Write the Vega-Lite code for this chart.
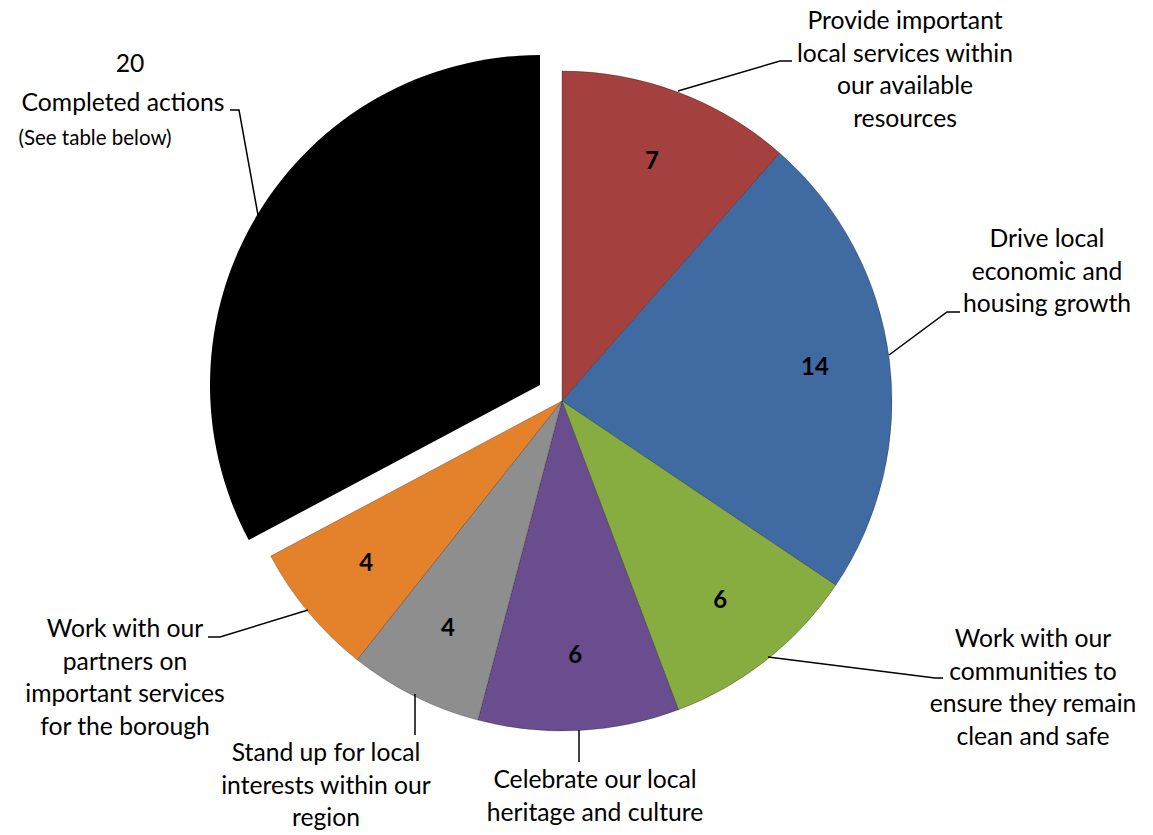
{
  "$schema": "https://vega.github.io/schema/vega-lite/v6.json",
  "width": 1153,
  "height": 835,
  "padding": 0,
  "autosize": {"type": "none"},
  "background": "white",
  "config": {"view": {"stroke": null}},
  "datasets": {
    "slices": [
      {"cat": "Provide important local services within our available resources", "actions": 7, "idx": 1},
      {"cat": "Drive local economic and housing growth", "actions": 14, "idx": 2},
      {"cat": "Work with our communities to ensure they remain clean and safe", "actions": 6, "idx": 3},
      {"cat": "Celebrate our local heritage and culture", "actions": 6, "idx": 4},
      {"cat": "Stand up for local interests within our region", "actions": 4, "idx": 5},
      {"cat": "Work with our partners on important services for the borough", "actions": 4, "idx": 6},
      {"cat": "Completed actions", "actions": 20, "idx": 7}
    ],
    "labels": [
      {"lines": ["Provide important", "local services within", "our available", "resources"], "x": 905, "y": 29},
      {"lines": ["Drive local", "economic and", "housing growth"], "x": 1047, "y": 247},
      {"lines": ["Work with our", "communities to", "ensure they remain", "clean and safe"], "x": 1033, "y": 647},
      {"lines": ["Celebrate our local", "heritage and culture"], "x": 595, "y": 788},
      {"lines": ["Stand up for local", "interests within our", "region"], "x": 326, "y": 761},
      {"lines": ["Work with our", "partners on", "important services", "for the borough"], "x": 125, "y": 637},
      {"lines": ["20"], "x": 130, "y": 72},
      {"lines": ["Completed actions"], "x": 123, "y": 111}
    ],
    "leaders": [
      {"g": "a", "i": 1, "x": 678, "y": 91},
      {"g": "a", "i": 2, "x": 780, "y": 61},
      {"g": "a", "i": 3, "x": 792, "y": 61},
      {"g": "b", "i": 1, "x": 889, "y": 355},
      {"g": "b", "i": 2, "x": 947, "y": 312},
      {"g": "b", "i": 3, "x": 960, "y": 312},
      {"g": "c", "i": 1, "x": 768, "y": 657},
      {"g": "c", "i": 2, "x": 935, "y": 678},
      {"g": "c", "i": 3, "x": 943, "y": 678},
      {"g": "d", "i": 1, "x": 579, "y": 730},
      {"g": "d", "i": 2, "x": 579, "y": 762},
      {"g": "e", "i": 1, "x": 415, "y": 694},
      {"g": "e", "i": 2, "x": 415, "y": 735},
      {"g": "f", "i": 1, "x": 308, "y": 610},
      {"g": "f", "i": 2, "x": 220, "y": 637},
      {"g": "f", "i": 3, "x": 208, "y": 637},
      {"g": "g", "i": 1, "x": 258, "y": 215},
      {"g": "g", "i": 2, "x": 239, "y": 110},
      {"g": "g", "i": 3, "x": 230, "y": 110}
    ]
  },
  "layer": [
    {
      "data": {"name": "slices"},
      "mark": {"type": "arc", "outerRadius": 330, "stroke": "#000000", "strokeOpacity": 0.25, "strokeWidth": 1},
      "encoding": {
        "x": {"datum": 562, "type": "quantitative", "scale": {"domain": [0, 1153], "nice": false, "zero": false}, "axis": null},
        "y": {"datum": 401, "type": "quantitative", "scale": {"domain": [0, 835], "nice": false, "zero": false, "reverse": true}, "axis": null},
        "theta": {"field": "actions", "type": "quantitative", "stack": true},
        "order": {"field": "idx", "type": "quantitative"},
        "color": {
          "field": "cat", "type": "nominal", "legend": null,
          "scale": {
            "domain": [
              "Provide important local services within our available resources",
              "Drive local economic and housing growth",
              "Work with our communities to ensure they remain clean and safe",
              "Celebrate our local heritage and culture",
              "Stand up for local interests within our region",
              "Work with our partners on important services for the borough",
              "Completed actions"
            ],
            "range": ["#a4403e", "#3f6ba2", "#87ad40", "#6a4d8e", "#8e8e8e", "#e4812b", "#000000"]
          }
        },
        "opacity": {"condition": {"test": "datum.cat === 'Completed actions'", "value": 0}, "value": 1}
      }
    },
    {
      "data": {"name": "slices"},
      "mark": {"type": "arc", "outerRadius": 330},
      "encoding": {
        "x": {"datum": 540, "type": "quantitative"},
        "y": {"datum": 385, "type": "quantitative"},
        "theta": {"field": "actions", "type": "quantitative", "stack": true},
        "order": {"field": "idx", "type": "quantitative"},
        "color": {"field": "cat", "type": "nominal", "legend": null},
        "opacity": {"condition": {"test": "datum.cat === 'Completed actions'", "value": 1}, "value": 0}
      }
    },
    {
      "data": {"name": "slices"},
      "mark": {"type": "text", "radius": 255, "fontSize": 24, "fontWeight": "bold", "font": "Lato", "color": "#000000"},
      "encoding": {
        "x": {"datum": 562, "type": "quantitative"},
        "y": {"datum": 401, "type": "quantitative"},
        "theta": {"field": "actions", "type": "quantitative", "stack": true},
        "order": {"field": "idx", "type": "quantitative"},
        "text": {"field": "actions", "type": "quantitative"},
        "opacity": {"condition": {"test": "datum.cat === 'Completed actions'", "value": 0}, "value": 1}
      }
    },
    {
      "data": {"name": "labels"},
      "mark": {"type": "text", "align": "center", "baseline": "alphabetic", "fontSize": 24.7, "lineHeight": 32.5, "font": "Lato", "color": "#000000"},
      "encoding": {
        "x": {"field": "x", "type": "quantitative"},
        "y": {"field": "y", "type": "quantitative"},
        "text": {"field": "lines", "type": "nominal"}
      }
    },
    {
      "data": {"values": [{"note": "(See table below)", "x": 95, "y": 145}]},
      "mark": {"type": "text", "align": "center", "baseline": "alphabetic", "fontSize": 20.5, "font": "Lato", "color": "#000000"},
      "encoding": {
        "x": {"field": "x", "type": "quantitative"},
        "y": {"field": "y", "type": "quantitative"},
        "text": {"field": "note", "type": "nominal"}
      }
    },
    {
      "data": {"name": "leaders"},
      "mark": {"type": "line", "color": "#000000", "strokeWidth": 1.5},
      "encoding": {
        "x": {"field": "x", "type": "quantitative"},
        "y": {"field": "y", "type": "quantitative"},
        "detail": {"field": "g", "type": "nominal"},
        "order": {"field": "i", "type": "quantitative"}
      }
    }
  ]
}
